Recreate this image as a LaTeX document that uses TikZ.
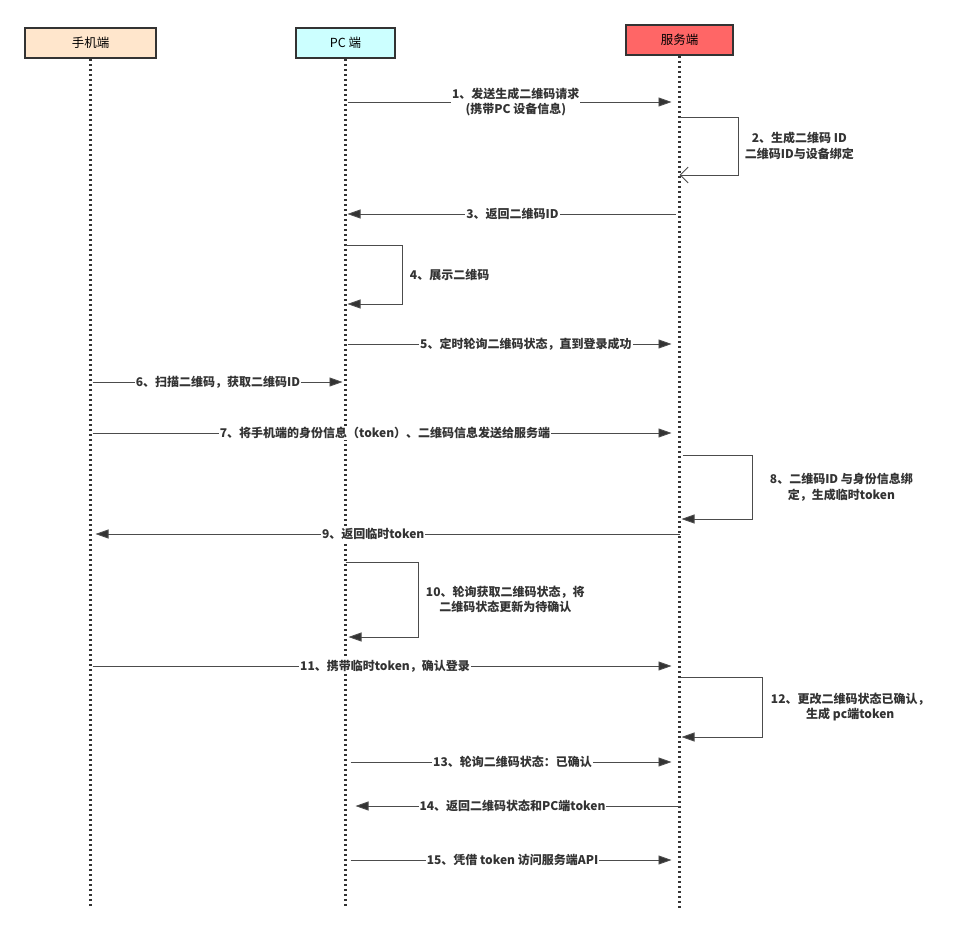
\documentclass[tikz,border=0pt]{standalone}
\usepackage{fontspec}
\setmainfont{Noto Sans CJK SC}
\usetikzlibrary{arrows.meta}
\definecolor{phonefill}{HTML}{FFE6CC}
\definecolor{pcfill}{HTML}{CCFFFF}
\definecolor{srvfill}{HTML}{FF6666}
\definecolor{edgegray}{HTML}{333333}

\tikzset{
  actor/.style={draw=edgegray,line width=1.6pt,minimum height=30pt,inner sep=0pt,font=\fontsize{12.5}{14}\selectfont},
  life/.style={draw=edgegray,line width=2.2pt,dash pattern=on 2.5pt off 2.5pt},
  msg/.style={draw=black!70,line width=0.9pt,-{Triangle[length=13pt,width=9pt,fill=edgegray]}},
  ack/.style={draw=black!70,line width=0.9pt,-{Straight Barb[length=8pt,width=16pt]}},
  lbl/.style={fill=white,inner sep=1pt,align=center,text=edgegray,font=\fontsize{12}{15.5}\selectfont\bfseries}
}

\begin{document}
\begin{tikzpicture}[x=1pt,y=-1pt,line cap=butt]
\useasboundingbox (0,0) rectangle (956,936);
% participants
\node[actor,fill=phonefill,minimum width=131pt] (phone) at (90.5,43) {手机端};
\node[actor,fill=pcfill,minimum width=99pt] (pc) at (345.5,43) {PC 端};
\node[actor,fill=srvfill,minimum width=107pt] (srv) at (679.5,40) {服务端};
% lifelines
\coordinate (phoneend) at (90.5,908);
\coordinate (pcend) at (345.5,908);
\coordinate (srvend) at (679.5,910);
\draw[life] (phone.south) -- (phoneend);
\draw[life] (pc.south) -- (pcend);
\draw[life] (srv.south) -- (srvend);

% messages
\draw[msg,shorten <=2pt,shorten >=8pt] (pc |- 0,102) -- node[lbl,pos=0.51]{1、发送生成二维码请求\\(携带PC 设备信息)} (srv |- 0,102);
\draw[ack] (srv |- 0,117) -- ++(59,0) |- node[lbl,right=5pt,pos=0.25]{2、生成二维码 ID\\二维码ID与设备绑定} (srv |- 0,175);
\draw[msg,shorten >=2pt,shorten <=4pt] (srv |- 0,214) -- node[lbl]{3、返回二维码ID} (pc |- 0,214);
\draw[msg,shorten >=2pt] (pc |- 0,245) -- ++(57,0) |- node[lbl,right=6pt,pos=0.25]{4、展示二维码} (pc |- 0,304);
\draw[msg,shorten <=2pt,shorten >=8pt] (pc |- 0,344) -- node[lbl,pos=0.54]{5、定时轮询二维码状态，直到登录成功} (srv |- 0,344);
\draw[msg,shorten <=2pt,shorten >=3pt] (phone |- 0,382) -- node[lbl]{6、扫描二维码，获取二维码ID} (pc |- 0,382);
\draw[msg,shorten <=2pt,shorten >=8pt] (phone |- 0,433) -- node[lbl]{7、将手机端的身份信息（token）、二维码信息发送给服务端} (srv |- 0,433);
\draw[msg,shorten <=3pt,shorten >=2pt] (srv |- 0,455) -- ++(73,0) |- node[lbl,right=16pt,pos=0.25]{8、二维码ID 与身份信息绑\\定，生成临时token} (srv |- 0,519);
\draw[msg,shorten >=5pt] (srv |- 0,534) -- node[lbl,pos=0.52]{9、返回临时token} (phone |- 0,534);
\draw[msg,shorten >=3pt] (pc |- 0,562) -- ++(73,0) |- node[lbl,right=6pt,pos=0.25]{10、轮询获取二维码状态，将\\二维码状态更新为待确认} (pc |- 0,637);
\draw[msg,shorten <=2pt,shorten >=8pt] (phone |- 0,666) -- node[lbl]{11、携带临时token，确认登录} (srv |- 0,666);
\draw[msg,shorten <=1pt,shorten >=2pt] (srv |- 0,677) -- ++(83,0) |- node[lbl,right=7pt,pos=0.25]{12、更改二维码状态已确认，\\生成 pc端token} (srv |- 0,737);
\draw[msg,shorten <=5pt,shorten >=8pt] (pc |- 0,762) -- node[lbl]{13、轮询二维码状态：已确认} (srv |- 0,762);
\draw[msg,shorten >=10pt] (srv |- 0,806) -- node[lbl]{14、返回二维码状态和PC端token} (pc |- 0,806);
\draw[msg,shorten <=5pt,shorten >=8pt] (pc |- 0,860) -- node[lbl]{15、凭借 token 访问服务端API} (srv |- 0,860);
\end{tikzpicture}
\end{document}
